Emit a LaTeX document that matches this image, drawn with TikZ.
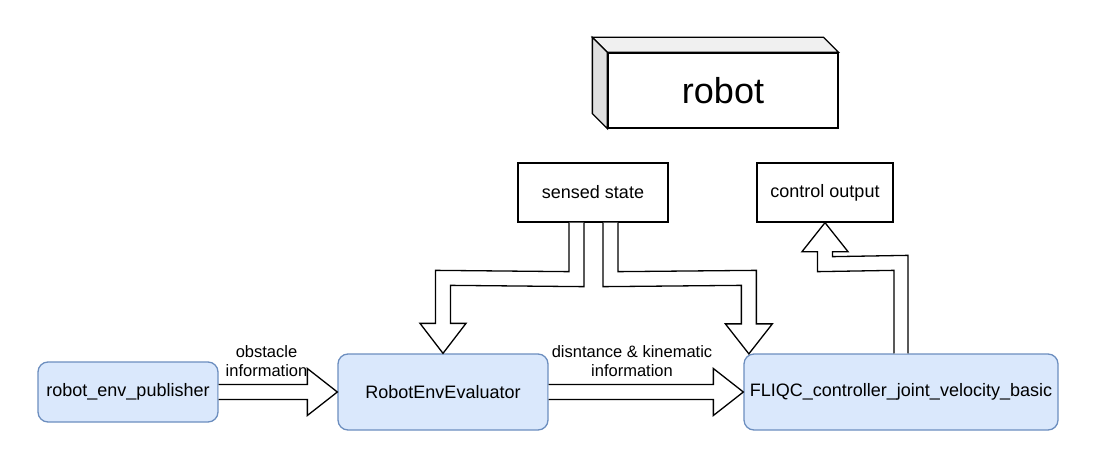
\documentclass[tikz,border=0pt]{standalone}
\usepackage{fontspec}
\setmainfont{Liberation Sans}
\usetikzlibrary{calc}
\definecolor{bfill}{HTML}{DAE8FC}
\definecolor{bline}{HTML}{6C8EBF}
\definecolor{topgray}{HTML}{F0F0F0}
\definecolor{sidegray}{HTML}{E0E0E0}
\begin{document}
\begin{tikzpicture}[x=1pt,y=-1pt,
  bluebox/.style={draw=bline, fill=bfill, line width=1.3pt, rounded corners=10pt,
    font=\fontsize{18}{21.6}\selectfont, inner sep=0pt},
  plainbox/.style={draw, fill=white, line width=1.3pt,
    font=\fontsize{18}{21.6}\selectfont, inner sep=0pt},
  flexar/.style={draw, fill=white, line width=1.3pt, line join=miter},
  lab/.style={font=\fontsize{16.5}{19.8}\selectfont, align=center, inner sep=0pt}]
\useasboundingbox (0,0) rectangle (1097,468);

% robot cube
\node[plainbox, minimum width=230pt, minimum height=75pt, font=\fontsize{36}{43}\selectfont] (robot) at (723,90.5) {robot};
\draw[line width=1.3pt, fill=topgray, line join=miter] (robot.north west) -- ++(-15,-15) -- ($(robot.north east)+(-15,-15)$) -- (robot.north east) -- cycle;
\draw[line width=1.3pt, fill=sidegray, line join=miter] (robot.north west) -- ++(-15,-15) -- ($(robot.south west)+(-15,-15)$) -- (robot.south west) -- cycle;

% boxes
\node[plainbox, minimum width=150pt, minimum height=59pt] (ss) at (593,192.5) {sensed state};
\node[plainbox, minimum width=136pt, minimum height=59pt] (co) at (825,192.5) {control output};
\node[bluebox, minimum width=180pt, minimum height=60pt] (pub) at (128,392) {robot\_env\_publisher};
\node[bluebox, minimum width=210pt, minimum height=76pt] (ev) at (443,392) {RobotEnvEvaluator};
\node[bluebox, minimum width=314pt, minimum height=76pt] (fl) at (901,392) {FLIQC\_controller\_joint\_velocity\_basic};

% horizontal flex arrows
\draw[flexar] ($(pub.east)+(0,-7.5)$) -- ($(ev.west)+(-30,-7.5)$) -- ($(ev.west)+(-30,-23.5)$) -- (ev.west) -- ($(ev.west)+(-30,23.5)$) -- ($(ev.west)+(-30,7.5)$) -- ($(pub.east)+(0,7.5)$);
\draw[flexar] ($(ev.east)+(0,-7.5)$) -- ($(fl.west)+(-30,-7.5)$) -- ($(fl.west)+(-30,-23.5)$) -- (fl.west) -- ($(fl.west)+(-30,23.5)$) -- ($(fl.west)+(-30,7.5)$) -- ($(ev.east)+(0,7.5)$);

% sensed state -> evaluator
\draw[flexar] ($(ss.south)+(-24,0)$) -- ($(ss.south)+(-24,49)$) -- ($(ev.north)+(-7.5,-83)$) -- ($(ev.north)+(-7.5,-30)$) -- ($(ev.north)+(-23,-30)$) -- (ev.north) -- ($(ev.north)+(23,-30)$) -- ($(ev.north)+(7.5,-30)$) -- ($(ev.north)+(7.5,-68)$) -- ($(ss.south)+(-9,64)$) -- ($(ss.south)+(-9,0)$);

% sensed state -> controller
\coordinate (T) at ($(fl.north west)+(5.5,0.5)$);
\draw[flexar] ($(ss.south)+(10,0)$) -- ($(ss.south)+(10,64)$) -- ($(T)+(-7.5,-68.5)$) -- ($(T)+(-7.5,-30)$) -- ($(T)+(-23.5,-30)$) -- (T) -- ($(T)+(23.5,-30)$) -- ($(T)+(7.5,-30)$) -- ($(T)+(7.5,-83.5)$) -- ($(ss.south)+(25,49)$) -- ($(ss.south)+(25,0)$);

% controller -> control output
\draw[flexar] ($(fl.north)+(-7,0)$) -- ($(fl.north)+(-7,-83)$) -- ($(co.south)+(-7.5,49)$) -- ($(co.south)+(-7.5,29)$) -- ($(co.south)+(-23,29)$) -- (co.south) -- ($(co.south)+(23,29)$) -- ($(co.south)+(7.5,29)$) -- ($(co.south)+(7.5,34)$) -- ($(fl.north)+(7,-98)$) -- ($(fl.north)+(7,0)$);

% labels
\node[lab] (l1) at (266.5,361) {obstacle\\information};
\node[lab] (l2) at (632,361) {disntance \& kinematic\\information};
\end{tikzpicture}
\end{document}
